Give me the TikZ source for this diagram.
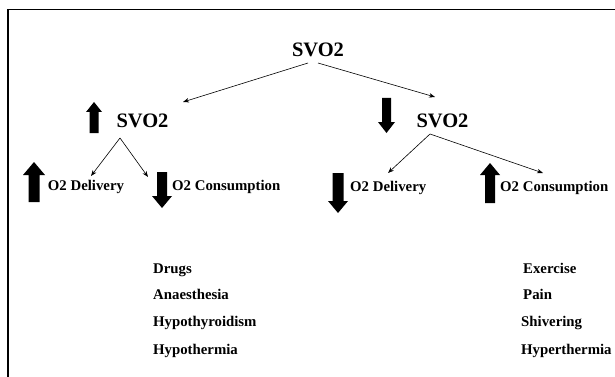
\documentclass[tikz,border=0pt]{standalone}
\usepackage{fontspec}
\setmainfont{Liberation Serif}
\usetikzlibrary{arrows.meta}
\newcommand{\blockarrow}[6]{%
  \fill ({#1-#5/2},#4) -- ({#1-#5/2},#3) -- ({#1-#6/2},#3) -- (#1,#2) -- ({#1+#6/2},#3) -- ({#1+#5/2},#3) -- ({#1+#5/2},#4) -- cycle;}
\begin{document}
\begin{tikzpicture}[x=1pt,y=-1pt,
  big/.style={font=\fontsize{20.5}{22}\selectfont\bfseries, inner sep=0pt},
  lab/.style={font=\fontsize{14.8}{16}\selectfont\bfseries, inner sep=0pt},
  conn/.style={line width=0.6pt, -{Stealth[length=6pt,width=4.5pt]}}]
\useasboundingbox (0,0) rectangle (615,377);
\fill[white] (0,0) rectangle (615,377);
\draw[line width=1.2pt] (8,377) -- (8,9.5) -- (615,9.5);

\node[big] (top) at (318,50) {SVO2};
\node[big] (lsv) at (142.5,120.5) {SVO2};
\node[big] (rsv) at (442.5,120.5) {SVO2};

\coordinate (tl) at (308,63);
\coordinate (tr) at (318,63);
\coordinate (tle) at (183,102);
\coordinate (tre) at (435,97);
\draw[conn] (tl) -- (tle);
\draw[conn] (tr) -- (tre);

\node[lab] (ld) at (86,187) {O2 Delivery};
\node[lab, anchor=west] (lc) at (172,187) {O2 Consumption};
\node[lab, anchor=west] (rd) at (350,188) {O2 Delivery};
\node[lab, anchor=west] (rc) at (500,188) {O2 Consumption};

\coordinate (la) at (120,138);
\coordinate (lae1) at (91,176);
\coordinate (lae2) at (148,177);
\draw[conn] (la) -- (lae1);
\draw[conn] (la) -- (lae2);
\coordinate (ra) at (430,134);
\coordinate (rae1) at (388,173);
\coordinate (rae2) at (543,173);
\draw[conn] (ra) -- (rae1);
\draw[conn] (ra) -- (rae2);

\blockarrow{94}{102}{112}{133}{9}{16}
\blockarrow{386.5}{133}{122}{98}{9}{17}
\blockarrow{34}{162}{175}{202}{11}{22}
\blockarrow{162}{208}{196}{172}{10}{20}
\blockarrow{338}{213}{201}{173}{11}{20}
\blockarrow{490}{163}{175}{203}{10}{20}

\node[lab, anchor=base west] (l1) at (153,273) {Drugs};
\node[lab, anchor=base west] (l2) at (153,299.5) {Anaesthesia};
\node[lab, anchor=base west] (l3) at (153,326.5) {Hypothyroidism};
\node[lab, anchor=base west] (l4) at (153,354) {Hypothermia};
\node[lab, anchor=base west] (r1) at (523,273) {Exercise};
\node[lab, anchor=base west] (r2) at (523,299.5) {Pain};
\node[lab, anchor=base west] (r3) at (521,326.5) {Shivering};
\node[lab, anchor=base west] (r4) at (521,354) {Hyperthermia};
\end{tikzpicture}
\end{document}
